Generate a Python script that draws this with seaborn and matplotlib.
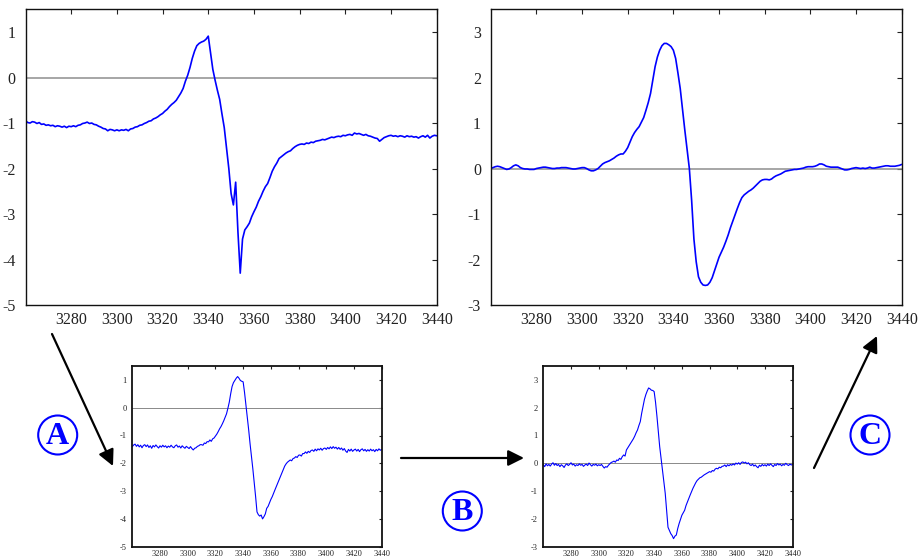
import numpy as np
import matplotlib
matplotlib.use("Agg")
import matplotlib.pyplot as plt
from matplotlib.patches import Circle, FancyArrowPatch
import seaborn as sns

sns.set_style("white")
plt.rcParams["font.family"] = ["Liberation Serif", "DejaVu Serif"]
plt.rcParams["axes.unicode_minus"] = False

# magnetic field axis (G), one point per gauss
field = np.arange(3260, 3441)

# measured spectrum (top left)
spec_raw = [
    -0.95, -0.99, -1.00, -0.97, -0.98, -1.01, -0.99, -1.03, -1.02, -1.05,
    -1.04, -1.06, -1.05, -1.08, -1.06, -1.07, -1.09, -1.07, -1.10, -1.07,
    -1.08, -1.06, -1.08, -1.05, -1.04, -1.01, -1.00, -0.98, -1.01, -1.00,
    -1.03, -1.04, -1.07, -1.09, -1.12, -1.13, -1.17, -1.14, -1.15, -1.17,
    -1.15, -1.17, -1.15, -1.16, -1.14, -1.17, -1.13, -1.12, -1.09, -1.08,
    -1.05, -1.04, -1.01, -0.99, -0.96, -0.95, -0.91, -0.89, -0.86, -0.82,
    -0.79, -0.74, -0.70, -0.64, -0.59, -0.55, -0.50, -0.42, -0.34, -0.24,
    -0.08, 0.05, 0.22, 0.42, 0.58, 0.70, 0.75, 0.78, 0.80, 0.84,
    0.91, 0.55, 0.18, -0.06, -0.28, -0.48, -0.80, -1.10, -1.55, -2.00,
    -2.55, -2.80, -2.30, -3.40, -4.30, -3.55, -3.35, -3.28, -3.20, -3.06,
    -2.95, -2.85, -2.72, -2.62, -2.50, -2.40, -2.33, -2.20, -2.06, -1.96,
    -1.88, -1.78, -1.74, -1.70, -1.66, -1.63, -1.61, -1.56, -1.52, -1.49,
    -1.47, -1.46, -1.47, -1.44, -1.45, -1.42, -1.43, -1.40, -1.39, -1.38,
    -1.36, -1.37, -1.35, -1.33, -1.31, -1.32, -1.30, -1.29, -1.30, -1.27,
    -1.28, -1.26, -1.25, -1.27, -1.22, -1.24, -1.23, -1.25, -1.27, -1.25,
    -1.28, -1.29, -1.31, -1.33, -1.34, -1.40, -1.36, -1.32, -1.30, -1.28,
    -1.27, -1.29, -1.28, -1.30, -1.28, -1.29, -1.31, -1.28, -1.30, -1.29,
    -1.31, -1.30, -1.33, -1.30, -1.28, -1.31, -1.27, -1.33, -1.29, -1.27,
    -1.28,
]

# corrected spectrum (top right)
spec_final = [
    0.00, 0.02, 0.04, 0.05, 0.04, 0.02, 0.00, -0.02, -0.01, 0.02,
    0.06, 0.08, 0.06, 0.02, 0.00, -0.01, -0.01, -0.02, -0.02, -0.02,
    0.00, 0.01, 0.02, 0.03, 0.03, 0.02, 0.01, 0.00, 0.00, 0.01,
    0.01, 0.02, 0.02, 0.02, 0.01, 0.00, -0.01, -0.01, 0.00, 0.01,
    0.02, 0.02, 0.00, -0.03, -0.05, -0.05, -0.03, 0.00, 0.05, 0.10,
    0.13, 0.15, 0.17, 0.20, 0.23, 0.27, 0.30, 0.32, 0.32, 0.38,
    0.46, 0.58, 0.70, 0.79, 0.86, 0.92, 1.02, 1.12, 1.28, 1.45,
    1.65, 1.95, 2.24, 2.45, 2.60, 2.70, 2.75, 2.75, 2.72, 2.68,
    2.60, 2.42, 2.10, 1.76, 1.30, 0.85, 0.42, 0.00, -0.70, -1.55,
    -2.05, -2.38, -2.50, -2.56, -2.57, -2.56, -2.50, -2.40, -2.25, -2.10,
    -1.95, -1.84, -1.73, -1.60, -1.46, -1.30, -1.16, -1.02, -0.88, -0.75,
    -0.64, -0.58, -0.54, -0.50, -0.47, -0.43, -0.38, -0.33, -0.28, -0.25,
    -0.24, -0.24, -0.25, -0.23, -0.19, -0.16, -0.14, -0.12, -0.09, -0.06,
    -0.05, -0.04, -0.03, -0.02, -0.02, -0.01, 0.00, 0.01, 0.03, 0.04,
    0.04, 0.04, 0.05, 0.07, 0.10, 0.10, 0.08, 0.05, 0.04, 0.03,
    0.03, 0.03, 0.03, 0.01, -0.01, -0.03, -0.03, -0.02, 0.00, 0.01,
    0.02, 0.01, 0.00, 0.01, 0.00, 0.01, 0.03, 0.01, 0.01, 0.02,
    0.03, 0.04, 0.05, 0.06, 0.06, 0.05, 0.05, 0.05, 0.06, 0.07,
    0.09,
]

# step A result (bottom left)
spec_step_a = [
    -1.40, -1.34, -1.31, -1.39, -1.33, -1.41, -1.35, -1.44, -1.36, -1.33,
    -1.40, -1.34, -1.43, -1.37, -1.46, -1.36, -1.41, -1.34, -1.40, -1.45,
    -1.37, -1.42, -1.35, -1.41, -1.37, -1.44, -1.38, -1.42, -1.35, -1.41,
    -1.44, -1.37, -1.34, -1.42, -1.38, -1.45, -1.37, -1.42, -1.46, -1.39,
    -1.43, -1.47, -1.40, -1.47, -1.52, -1.46, -1.44, -1.39, -1.37, -1.33,
    -1.33, -1.35, -1.27, -1.29, -1.22, -1.23, -1.16, -1.21, -1.12, -1.09,
    -1.02, -0.95, -0.86, -0.76, -0.68, -0.58, -0.47, -0.35, -0.22, -0.02,
    0.20, 0.50, 0.76, 0.90, 0.98, 1.06, 1.12, 1.06, 0.98, 0.95,
    0.93, 0.55, 0.10, -0.35, -0.80, -1.30, -1.75, -2.20, -2.70, -3.20,
    -3.75, -3.85, -3.90, -3.86, -4.00, -3.92, -3.82, -3.62, -3.55, -3.42,
    -3.30, -3.20, -3.07, -2.95, -2.83, -2.70, -2.59, -2.46, -2.35, -2.22,
    -2.10, -2.02, -1.96, -1.92, -1.88, -1.91, -1.83, -1.81, -1.76, -1.79,
    -1.71, -1.70, -1.74, -1.65, -1.65, -1.59, -1.64, -1.57, -1.61, -1.54,
    -1.52, -1.57, -1.49, -1.55, -1.48, -1.52, -1.46, -1.53, -1.47, -1.45,
    -1.50, -1.43, -1.48, -1.41, -1.47, -1.40, -1.46, -1.42, -1.49, -1.43,
    -1.50, -1.45, -1.53, -1.47, -1.56, -1.61, -1.50, -1.56, -1.49, -1.57,
    -1.52, -1.49, -1.56, -1.50, -1.58, -1.51, -1.48, -1.55, -1.50, -1.57,
    -1.51, -1.56, -1.49, -1.55, -1.51, -1.58, -1.50, -1.55, -1.48, -1.53,
    -1.50,
]

# step B result (bottom right)
spec_step_b = [
    -0.05, -0.12, -0.02, -0.09, -0.04, -0.10, -0.03, 0.02, -0.07, -0.01,
    -0.08, -0.04, -0.12, -0.05, -0.09, -0.15, -0.06, -0.02, -0.08, -0.04,
    0.02, -0.06, -0.03, -0.10, -0.05, -0.08, -0.02, -0.07, -0.04, -0.11,
    -0.06, -0.03, -0.08, 0.01, -0.05, -0.10, -0.04, -0.07, -0.03, -0.09,
    -0.05, -0.08, -0.04, -0.11, -0.17, -0.12, -0.14, -0.07, -0.02, 0.03,
    0.05, 0.08, 0.04, 0.12, 0.10, 0.18, 0.14, 0.24, 0.30, 0.26,
    0.48, 0.56, 0.64, 0.72, 0.80, 0.88, 0.98, 1.10, 1.20, 1.36,
    1.50, 1.80, 2.05, 2.30, 2.47, 2.60, 2.71, 2.68, 2.63, 2.62,
    2.58, 2.20, 1.70, 1.15, 0.60, 0.18, -0.24, -0.65, -1.08, -1.70,
    -2.30, -2.42, -2.53, -2.60, -2.71, -2.62, -2.58, -2.35, -2.17, -2.02,
    -1.87, -1.78, -1.69, -1.52, -1.39, -1.26, -1.14, -1.02, -0.90, -0.80,
    -0.70, -0.62, -0.57, -0.52, -0.50, -0.46, -0.42, -0.39, -0.36, -0.33,
    -0.30, -0.32, -0.26, -0.28, -0.21, -0.18, -0.20, -0.14, -0.16, -0.11,
    -0.10, -0.06, -0.12, -0.05, -0.09, -0.04, -0.07, -0.02, -0.06, 0.01,
    -0.03, 0.02, -0.04, 0.03, 0.05, 0.01, 0.04, -0.02, 0.02, -0.05,
    -0.08, -0.03, -0.10, -0.06, -0.12, -0.16, -0.07, -0.11, -0.04, -0.09,
    -0.05, -0.10, -0.03, -0.08, -0.02, -0.07, -0.12, -0.04, -0.08, -0.01,
    -0.06, -0.03, -0.09, -0.04, -0.07, 0.00, -0.05, -0.08, -0.03, -0.06,
    -0.04,
]

x_ticks = [3280, 3300, 3320, 3340, 3360, 3380, 3400, 3420, 3440]

W, H = 919, 560
fig = plt.figure(figsize=(W / 100, H / 100), dpi=100)


def panel(rect_px, y, ylim, yticks, fs, lw, frame_lw, tick_len, pad_x, pad_y):
    left, top, right, bottom = rect_px
    ax = fig.add_axes([left / W, 1 - bottom / H, (right - left) / W, (bottom - top) / H])
    ax.axhline(0, color="#8c8c8c", lw=lw * 0.9, zorder=1)
    sns.lineplot(x=field, y=y, ax=ax, color="#0000ff", lw=lw, zorder=2, sort=False)
    ax.set_xlim(3260, 3440)
    ax.set_ylim(*ylim)
    ax.set_xticks(x_ticks)
    ax.set_yticks(yticks)
    ax.set_xticklabels([str(t) for t in x_ticks])
    ax.set_yticklabels([str(t) for t in yticks])
    ax.set_xlabel("")
    ax.set_ylabel("")
    ax.tick_params(axis="both", direction="in", top=True, right=True,
                   length=tick_len, width=0.8, labelsize=fs, colors="#222222")
    ax.tick_params(axis="x", pad=pad_x)
    ax.tick_params(axis="y", pad=pad_y)
    for s in ax.spines.values():
        s.set_visible(True)
        s.set_color("#111111")
        s.set_linewidth(frame_lw)
    return ax


panel((25.5, 9.3, 436.7, 305), spec_raw, (-5, 1.5), [-5, -4, -3, -2, -1, 0, 1],
      11.5, 1.2, 1.0, 3.5, 5, 7)
panel((490.7, 9.3, 901.7, 305), spec_final, (-3, 3.5), [-3, -2, -1, 0, 1, 2, 3],
      11.5, 1.2, 1.0, 3.5, 5, 7)
panel((132.3, 366, 381.7, 546.7), spec_step_a, (-5, 1.5), [-5, -4, -3, -2, -1, 0, 1],
      6, 0.8, 1.3, 2.5, 2.5, 4)
panel((543.3, 366, 792.7, 546.7), spec_step_b, (-3, 3.5), [-3, -2, -1, 0, 1, 2, 3],
      6, 0.8, 1.3, 2.5, 2.5, 4)

# overlay in pixel coordinates for arrows and step labels
ov = fig.add_axes([0, 0, 1, 1], facecolor="none")
ov.set_xlim(0, W)
ov.set_ylim(H, 0)
ov.axis("off")

arrows = [((52, 334), (113, 466)), ((401, 458), (524, 458)), ((814, 468), (877, 336))]
for start, end in arrows:
    ov.add_patch(FancyArrowPatch(start, end, arrowstyle="-|>", mutation_scale=24,
                                 lw=1.6, color="black", shrinkA=0, shrinkB=0))

steps = [("A", (57.7, 435)), ("B", (462.3, 511)), ("C", (870, 435))]
for letter, (cx, cy) in steps:
    ov.add_patch(Circle((cx, cy), 19.5, fill=False, ec="#0000ff", lw=1.5))
    ov.text(cx, cy + 1, letter, color="#0000ff", fontsize=23, fontweight="bold",
            ha="center", va="center", family=["Liberation Serif", "DejaVu Serif"])

fig.savefig("out.png", dpi=100)
